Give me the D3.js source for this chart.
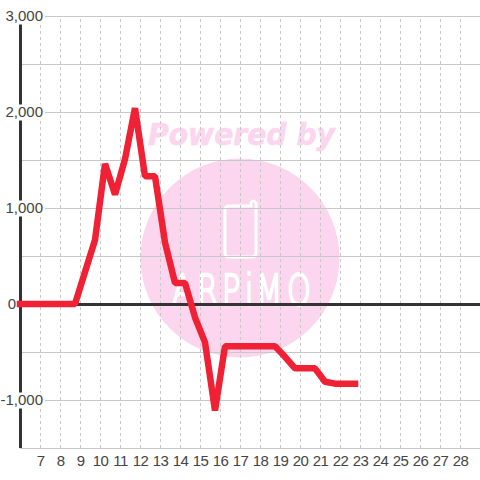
<!DOCTYPE html>
<html>
<head>
<meta charset="utf-8">
<script src="https://cdnjs.cloudflare.com/ajax/libs/d3/7.8.5/d3.min.js"></script>
<style>
html, body { margin: 0; padding: 0; background: #fff; }
svg { display: block; }
text { font-family: "Liberation Sans", sans-serif; fill: #444; }
</style>
</head>
<body>
<div id="chart"></div>
<script>
const hours = [6, 6.25, 6.75, 7.25, 7.75, 8.25, 8.75, 9.25, 9.75, 10.25, 10.75, 11.25, 11.75, 12.25, 12.75, 13.25, 13.75, 14.25, 14.75, 15.25, 15.75, 16.25, 16.75, 17.25, 17.75, 18.25, 18.75, 19.25, 19.75, 20.25, 20.75, 21.25, 21.75, 22.25, 22.75]
const values = [0, 0, 0, 0, 0, 0, 0, 333, 667, 1460, 1140, 1510, 2040, 1330, 1330, 640, 220, 220, -140, -400, -1110, -440, -440, -440, -440, -440, -440, -550, -670, -670, -670, -810, -830, -830, -830]
const xTicks = [7, 8, 9, 10, 11, 12, 13, 14, 15, 16, 17, 18, 19, 20, 21, 22, 23, 24, 25, 26, 27, 28]
const yTicks = [-1500, -1000, -500, 0, 500, 1000, 1500, 2000, 2500, 3000]
const yLabels = [-1000, 0, 1000, 2000, 3000]

const width = 480
const height = 480
const x = d3.scaleLinear().domain([6, 29]).range([20, 480])
const y = d3.scaleLinear().domain([-1500, 3000]).range([448, 16])

const svg = d3.select("#chart").append("svg")
    .attr("width", width)
    .attr("height", height)

drawWatermark()
drawGrid()
drawAxes()
drawLine()

function drawWatermark() {
    const pink = "#fbd6ee"
    svg.append("circle")
        .attr("cx", 240)
        .attr("cy", 258)
        .attr("r", 99.5)
        .attr("fill", pink)
    svg.append("text")
        .attr("x", 148)
        .attr("y", 145)
        .attr("textLength", 187)
        .attr("lengthAdjust", "spacingAndGlyphs")
        .style("font-family", "DejaVu Sans")
        .style("font-weight", "bold")
        .style("font-style", "italic")
        .style("font-size", "30px")
        .style("fill", pink)
        .style("stroke", pink)
        .style("stroke-width", 0.6)
        .text("Powered by")
    // the phone outline in the logo
    svg.append("path")
        .attr("d", "M229 206 H251 V203 Q253 199 256 203 V253 Q256 257 252 257 H229 Q225 257 225 253 V210 Q225 206 229 206 Z")
        .attr("fill", "none")
        .attr("stroke", "#fff")
        .attr("stroke-width", 3)
    // logo letters are narrow and widely spaced, so squeeze and place each one
    const squeeze = 0.72
    svg.append("text")
        .attr("transform", "translate(0,305) scale(" + squeeze + ",1)")
        .attr("x", [172, 197, 222, 245, 256, 287].map(d => d / squeeze).join(" "))
        .style("font-family", "DejaVu Sans")
        .style("font-weight", 200)
        .style("font-size", "42px")
        .style("fill", "#fff")
        .style("stroke", "#fff")
        .style("stroke-width", 2.4)
        .text("ARPiMO")
}

function drawGrid() {
    const vGrid = svg.append("g")
        .attr("transform", "translate(0,448)")
        .call(d3.axisBottom(x).tickValues(xTicks).tickSize(-432).tickFormat(""))
    vGrid.select(".domain").remove()
    vGrid.selectAll("line")
        .attr("stroke", "#c8c8c8")
        .attr("stroke-dasharray", "3,3")

    const hGrid = svg.append("g")
        .attr("transform", "translate(20,0)")
        .call(d3.axisLeft(y).tickValues(yTicks).tickSize(-460).tickFormat(""))
    hGrid.select(".domain").remove()
    hGrid.selectAll("line")
        .attr("stroke", "#c8c8c8")
}

function drawAxes() {
    // y axis and zero line
    svg.append("line")
        .attr("x1", x(6) + 0.5).attr("x2", x(6) + 0.5)
        .attr("y1", y(-1500)).attr("y2", y(3000))
        .attr("stroke", "#333")
        .attr("stroke-width", 3)
    svg.append("line")
        .attr("x1", x(6)).attr("x2", 480)
        .attr("y1", y(0) + 0.5).attr("y2", y(0) + 0.5)
        .attr("stroke", "#333")
        .attr("stroke-width", 3)

    const xAxis = svg.append("g")
        .attr("transform", "translate(0,448)")
        .call(d3.axisBottom(x).tickValues(xTicks).tickSize(0).tickPadding(7))
    xAxis.select(".domain").remove()
    xAxis.selectAll("text")
        .style("font-size", "15px")
        .style("letter-spacing", "-0.6px")
        .style("font-family", "Liberation Sans")
        .style("fill", "#444")

    const yAxis = svg.append("g")
        .attr("transform", "translate(43,0)")
        .call(d3.axisLeft(y).tickValues(yLabels).tickSize(0).tickPadding(0)
            .tickFormat(d => d3.format(",")(d).replace("\u2212", "-")))
    yAxis.select(".domain").remove()
    yAxis.selectAll(".tick").filter(d => d !== 0).insert("rect", "text")
        .attr("x", -38)
        .attr("y", -8)
        .attr("width", 40)
        .attr("height", 16)
        .attr("fill", "#fff")
    yAxis.selectAll("text")
        .attr("x", d => d === 0 ? -27 : 0)
        .style("font-size", "15px")
        .style("font-family", "Liberation Sans")
        .style("fill", "#444")
}

function drawLine() {
    const line = d3.line()
        .x((d, i) => x(hours[i]))
        .y(d => y(d))
    svg.append("path")
        .datum(values)
        .attr("d", line)
        .attr("fill", "none")
        .attr("stroke", "#f02035")
        .attr("stroke-width", 6.5)
        .attr("stroke-linecap", "square")
        .attr("stroke-linejoin", "bevel")
}
</script>
</body>
</html>
